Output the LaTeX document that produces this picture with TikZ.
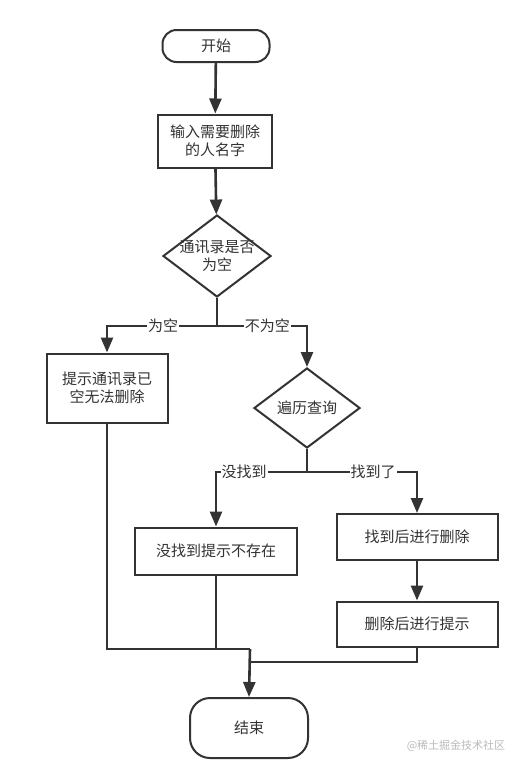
\documentclass[tikz,border=0pt]{standalone}
\usepackage{fontspec}
\newfontfamily\cjk{Noto Sans CJK SC}
\usetikzlibrary{shapes.geometric,arrows.meta}
\definecolor{ink}{HTML}{333333}
\definecolor{wm}{HTML}{BBBBBB}
\begin{document}
\begin{tikzpicture}[x=1pt,y=-1pt,
  every node/.style={font=\cjk\fontsize{15}{18}\selectfont, text=ink},
  term/.style={draw=ink, line width=2pt, rounded corners=14pt, inner sep=0},
  box/.style={draw=ink, line width=2pt, inner sep=0, align=center},
  dia/.style={draw=ink, line width=2pt, diamond, inner sep=0},
  ln/.style={draw=ink, line width=2.6pt},
  arr/.style={ln, -{Triangle[length=15pt,width=12pt]}},
  lbl/.style={fill=white, inner sep=1pt}
]
\useasboundingbox (0,0) rectangle (523,769);
\fill[white] (0,0) rectangle (523,769);

\node[term, minimum width=107pt, minimum height=32pt] (start) at (216,46) {开始};
\node[box, minimum width=114pt, minimum height=53pt] (b1) at (215,141) {输入需要删除\\的人名字};
\node[dia, minimum width=108pt, minimum height=82pt] (d1) at (217,256) {};
\node[align=center] at (d1) {通讯录是否\\为空};
\node[box, minimum width=121pt, minimum height=69pt] (b2) at (107,388) {提示通讯录已\\空无法删除};
\node[dia, minimum width=106pt, minimum height=80pt] (d2) at (307,408) {};
\node at (d2) {遍历查询};
\node[box, minimum width=162pt, minimum height=47pt] (b3) at (216,551) {没找到提示不存在};
\node[box, minimum width=161pt, minimum height=46pt] (b4) at (417,537) {找到后进行删除};
\node[box, minimum width=161pt, minimum height=45pt] (b5) at (417,624) {删除后进行提示};
\node[term, minimum width=118pt, minimum height=60pt, rounded corners=20pt] (end) at (249,728) {结束};
\node[text=wm, font=\cjk\fontsize{11}{13}\selectfont] (wmk) at (456,746) {@稀土掘金技术社区};

\coordinate (j1) at (217,326);
\coordinate (j2) at (307,472);
\coordinate (m1) at (250,649);
\coordinate (m2) at (250,662);

\draw[arr] (start) -- (b1);
\draw[arr] (b1) -- (d1);
\draw[ln] (d1.south) -- (j1);
\draw[arr] (j1) -| node[lbl, pos=0.245] {为空} (b2.north);
\draw[arr] (j1) -| node[lbl, pos=0.28] {不为空} (d2.north);
\draw[ln] (d2.south) -- (j2);
\draw[arr] (j2) -| node[lbl, pos=0.345] {没找到} (b3.north);
\draw[arr] (j2) -| node[lbl, pos=0.3] {找到了} (b4.north);
\draw[arr] (b4) -- (b5);
\draw[ln] (b2.south) |- (m1);
\draw[ln] (b3.south) |- (m1);
\draw[ln] (b5.south) |- (m2);
\draw[arr] (m1) -- (end.north);
\end{tikzpicture}
\end{document}
